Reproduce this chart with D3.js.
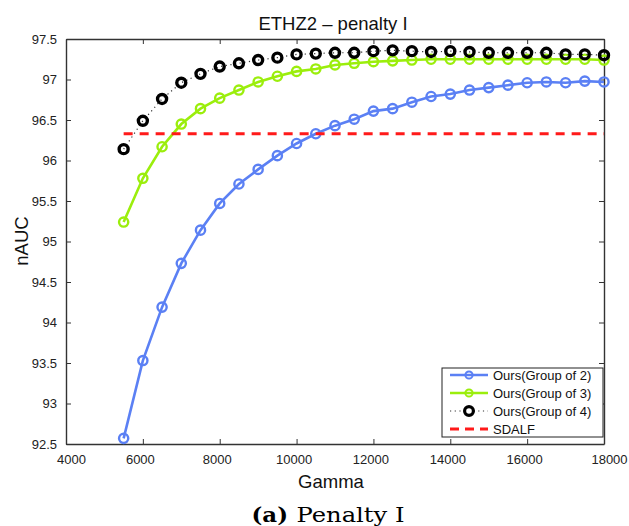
<!DOCTYPE html>
<html>
<head>
<meta charset="utf-8">
<script src="https://cdn.jsdelivr.net/npm/d3@7"></script>
<style>
body { margin: 0; background: #fff; }
svg { display: block; font-family: "Liberation Sans", Arial, sans-serif; }
</style>
</head>
<body>
<svg width="629" height="526"></svg>
<script>
var gamma = [5500, 6000, 6500, 7000, 7500, 8000, 8500, 9000, 9500, 10000,
	10500, 11000, 11500, 12000, 12500, 13000, 13500, 14000, 14500, 15000,
	15500, 16000, 16500, 17000, 17500, 18000];
var group2 = [92.57, 93.53, 94.19, 94.73, 95.14, 95.47, 95.71, 95.89, 96.06, 96.21,
	96.33, 96.43, 96.51, 96.61, 96.64, 96.72, 96.79, 96.82, 96.87, 96.90,
	96.93, 96.96, 96.97, 96.96, 96.98, 96.97];
var group3 = [95.24, 95.78, 96.17, 96.45, 96.64, 96.77, 96.87, 96.97, 97.04, 97.10,
	97.13, 97.18, 97.20, 97.22, 97.23, 97.24, 97.25, 97.25, 97.25, 97.25,
	97.25, 97.25, 97.25, 97.25, 97.25, 97.24];
var group4 = [96.14, 96.49, 96.76, 96.96, 97.07, 97.16, 97.20, 97.24, 97.27, 97.31,
	97.32, 97.33, 97.33, 97.35, 97.36, 97.35, 97.34, 97.35, 97.34, 97.33,
	97.33, 97.33, 97.33, 97.31, 97.31, 97.30];
var sdalf = 96.33;
var xTicks = [4000, 6000, 8000, 10000, 12000, 14000, 16000, 18000];
var yTicks = [92.5, 93, 93.5, 94, 94.5, 95, 95.5, 96, 96.5, 97, 97.5];
var seriesNames = ["Ours(Group of 2)", "Ours(Group of 3)", "Ours(Group of 4)", "SDALF"];

var svg = d3.select("svg");
var plotLeft = 66, plotRight = 604, plotTop = 39, plotBottom = 444;

var x = d3.scaleLinear().domain([4000, 18000]).range([plotLeft, plotRight]);
var y = d3.scaleLinear().domain([92.5, 97.5]).range([plotBottom, plotTop]);

var blue = "#5b80f4", green = "#9bee0c", red = "#ff1a1a";

var line = d3.line()
	.x((d, i) => x(gamma[i]))
	.y(d => y(d));

// axes box, ticks inside like matlab
var axisColor = "#333";
svg.append("g")
	.attr("transform", "translate(0," + plotBottom + ")")
	.call(d3.axisBottom(x).tickValues(xTicks).tickSizeInner(-5).tickSizeOuter(0).tickPadding(11).tickFormat(d3.format("d")))
	.call(g => g.selectAll("text").attr("dx", (d, i) => (i == 0 || i == xTicks.length - 1) ? 5 : -3));
svg.append("g")
	.attr("transform", "translate(0," + plotTop + ")")
	.call(d3.axisTop(x).tickValues(xTicks).tickSizeInner(-5).tickSizeOuter(0).tickFormat(""));
svg.append("g")
	.attr("transform", "translate(" + plotLeft + ",0)")
	.call(d3.axisLeft(y).tickValues(yTicks).tickSizeInner(-5).tickSizeOuter(0).tickPadding(9).tickFormat(d => d));
svg.append("g")
	.attr("transform", "translate(" + plotRight + ",0)")
	.call(d3.axisRight(y).tickValues(yTicks).tickSizeInner(-5).tickSizeOuter(0).tickFormat(""));

svg.selectAll(".domain").attr("stroke", axisColor).attr("stroke-width", 1.4);
svg.selectAll(".tick line").attr("stroke", axisColor).attr("stroke-width", 1);
svg.selectAll(".tick text").attr("fill", "#222").attr("font-size", 13)
	.attr("font-family", "Liberation Sans, Arial, sans-serif");

// group of 2
svg.append("path").datum(group2)
	.attr("d", line).attr("fill", "none").attr("stroke", blue).attr("stroke-width", 2.6);
svg.append("g").selectAll("circle").data(group2).enter().append("circle")
	.attr("cx", (d, i) => x(gamma[i])).attr("cy", d => y(d)).attr("r", 4.6)
	.attr("fill", "none").attr("stroke", blue).attr("stroke-width", 2.4);

// group of 3
svg.append("path").datum(group3)
	.attr("d", line).attr("fill", "none").attr("stroke", green).attr("stroke-width", 2.6);
svg.append("g").selectAll("circle").data(group3).enter().append("circle")
	.attr("cx", (d, i) => x(gamma[i])).attr("cy", d => y(d)).attr("r", 4.6)
	.attr("fill", "none").attr("stroke", green).attr("stroke-width", 2.4);

// group of 4
svg.append("path").datum(group4)
	.attr("d", line).attr("fill", "none").attr("stroke", "#333")
	.attr("stroke-width", 1.2).attr("stroke-dasharray", "1.2,3.5");
svg.append("g").selectAll("circle").data(group4).enter().append("circle")
	.attr("cx", (d, i) => x(gamma[i])).attr("cy", d => y(d)).attr("r", 4.5)
	.attr("fill", "none").attr("stroke", "#000").attr("stroke-width", 3.4);

// SDALF
svg.append("line")
	.attr("x1", x(gamma[0])).attr("x2", x(gamma[gamma.length - 1]))
	.attr("y1", y(sdalf)).attr("y2", y(sdalf))
	.attr("stroke", red).attr("stroke-width", 3).attr("stroke-dasharray", "9,7");

// legend
var lg = svg.append("g").attr("transform", "translate(442,368)");
lg.append("rect").attr("width", 161).attr("height", 69)
	.attr("fill", "#fff").attr("stroke", "#222").attr("stroke-width", 1);
var rows = lg.selectAll(".row").data(seriesNames).enter().append("g")
	.attr("transform", (d, i) => "translate(0," + (7 + i * 18) + ")");
rows.append("line")
	.attr("x1", 8).attr("x2", 46).attr("y1", 0).attr("y2", 0)
	.attr("stroke", (d, i) => [blue, green, "#333", red][i])
	.attr("stroke-width", (d, i) => [2.6, 2.6, 1.2, 3][i])
	.attr("stroke-dasharray", (d, i) => [null, null, "1.2,3.5", "9,6"][i]);
rows.filter((d, i) => i < 3).append("circle")
	.attr("cx", 27).attr("cy", 0)
	.attr("r", (d, i) => i == 2 ? 4.4 : 3.6)
	.attr("fill", (d, i) => i == 2 ? "#fff" : "none")
	.attr("stroke", (d, i) => [blue, green, "#000"][i])
	.attr("stroke-width", (d, i) => i == 2 ? 3.2 : 2);
rows.append("text")
	.attr("x", 51).attr("y", 0).attr("dy", "0.36em")
	.attr("font-size", 13).attr("fill", "#111")
	.text(d => d);

// labels
svg.append("text").attr("x", 333).attr("y", 29.5).attr("text-anchor", "middle")
	.attr("font-size", 18.5).attr("fill", "#111").text("ETHZ2 \u2013 penalty I");
svg.append("text").attr("x", 331).attr("y", 488).attr("text-anchor", "middle")
	.attr("font-size", 18.5).attr("fill", "#111").text("Gamma");
svg.append("text").attr("transform", "translate(28,241) rotate(-90)")
	.attr("text-anchor", "middle").attr("font-size", 18.5).attr("fill", "#111").text("nAUC");

var serif = "DejaVu Serif, Liberation Serif, serif";
svg.append("text").attr("x", 251.5).attr("y", 521.5)
	.attr("font-family", serif).attr("font-size", 21).attr("font-weight", "bold")
	.attr("textLength", 36.5).attr("lengthAdjust", "spacingAndGlyphs").text("(a)");
svg.append("text").attr("x", 296.5).attr("y", 521.5)
	.attr("font-family", serif).attr("font-size", 21).attr("font-weight", "normal")
	.attr("textLength", 108).attr("lengthAdjust", "spacingAndGlyphs").text("Penalty I");
</script>
</body>
</html>
